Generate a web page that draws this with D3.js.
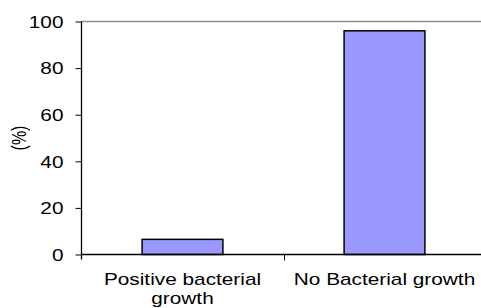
<!DOCTYPE html>
<html>
<head>
<meta charset="utf-8">
<script src="https://cdn.jsdelivr.net/npm/d3@7"></script>
<style>
  html, body { margin: 0; padding: 0; background: #fff; }
  svg { display: block; }
  text { font-family: "Liberation Sans", Arial, sans-serif; fill: #000; }
</style>
</head>
<body>
<svg id="chart" width="481" height="308"></svg>
<script>
const categories = ["Positive bacterial growth", "No Bacterial growth"];
const categoryLines = [["Positive bacterial", "growth"], ["No Bacterial growth"]];
const values = [6.5, 96];
const yTicks = [0, 20, 40, 60, 80, 100];
const yLabel = "(%)";

(function () {
const svg = d3.select("#chart");
const mLeft = 81.5, mRight = 485.5, mTop = 21.5, mBottom = 254.5;
const sx = 1.3; // horizontal stretch of the original text

const x = d3.scaleBand().domain(categories).range([mLeft, mRight])
  .paddingInner(0.6).paddingOuter(0.3);
const y = d3.scaleLinear().domain([0, 100]).range([mBottom, mTop]);

// top border (gray)
svg.append("line").attr("x1", mLeft).attr("x2", mRight).attr("y1", y(100)).attr("y2", y(100))
  .attr("stroke", "#8c8c8c").attr("stroke-width", 1.5);

// bars
svg.selectAll("rect.bar").data(values).enter().append("rect")
  .attr("class", "bar")
  .attr("x", (d, i) => x(categories[i]))
  .attr("y", d => y(d))
  .attr("width", x.bandwidth())
  .attr("height", d => y(0) - y(d))
  .attr("fill", "#9999FF").attr("stroke", "#000").attr("stroke-width", 1.5);

// y axis
const yAxis = d3.axisLeft(y).tickValues(yTicks).tickSize(6).tickFormat(d3.format("d"));
const gy = svg.append("g").attr("transform", `translate(${mLeft},0)`).call(yAxis);
gy.select(".domain").attr("stroke", "#000").attr("stroke-width", 1.3).attr("d", `M0,${mTop}V${mBottom + 5}`);
gy.selectAll(".tick line").attr("stroke", "#000");
gy.selectAll(".tick text").remove();
gy.selectAll(".tick").append("g")
  .attr("transform", `translate(-18,0) scale(${sx},1)`)
  .append("text")
  .attr("text-anchor", "end").attr("dy", "0.36em")
  .style("font-size", "16px")
  .text(d => d);

// x axis
const xAxis = d3.axisBottom(x).tickSize(0).tickFormat("");
const gx = svg.append("g").attr("transform", `translate(0,${mBottom})`).call(xAxis);
gx.select(".domain").attr("stroke", "#000").attr("stroke-width", 1.3).attr("d", `M${mLeft},0H${mRight}`);
const bounds = [x.step() + mLeft];
gx.selectAll("line.sep").data(bounds).enter().append("line").attr("class", "sep")
  .attr("x1", d => Math.round(d) + 0.5).attr("x2", d => Math.round(d) + 0.5)
  .attr("y1", 0).attr("y2", 6).attr("stroke", "#000");

// category labels
categories.forEach((c, i) => {
  const cx = x(c) + x.bandwidth() / 2;
  const g = svg.append("g").attr("transform", `translate(${cx},285) scale(${sx},1)`);
  const t = g.append("text").attr("text-anchor", "middle").style("font-size", "16px");
  categoryLines[i].forEach((ln, j) => {
    t.append("tspan").attr("x", 0).attr("y", j * 19).text(ln);
  });
});

// y label
svg.append("g").attr("transform", `translate(26,138) scale(${sx},1) rotate(-90)`)
  .append("text").attr("text-anchor", "middle").style("font-size", "16px").text(yLabel);
})();
</script>
</body>
</html>
